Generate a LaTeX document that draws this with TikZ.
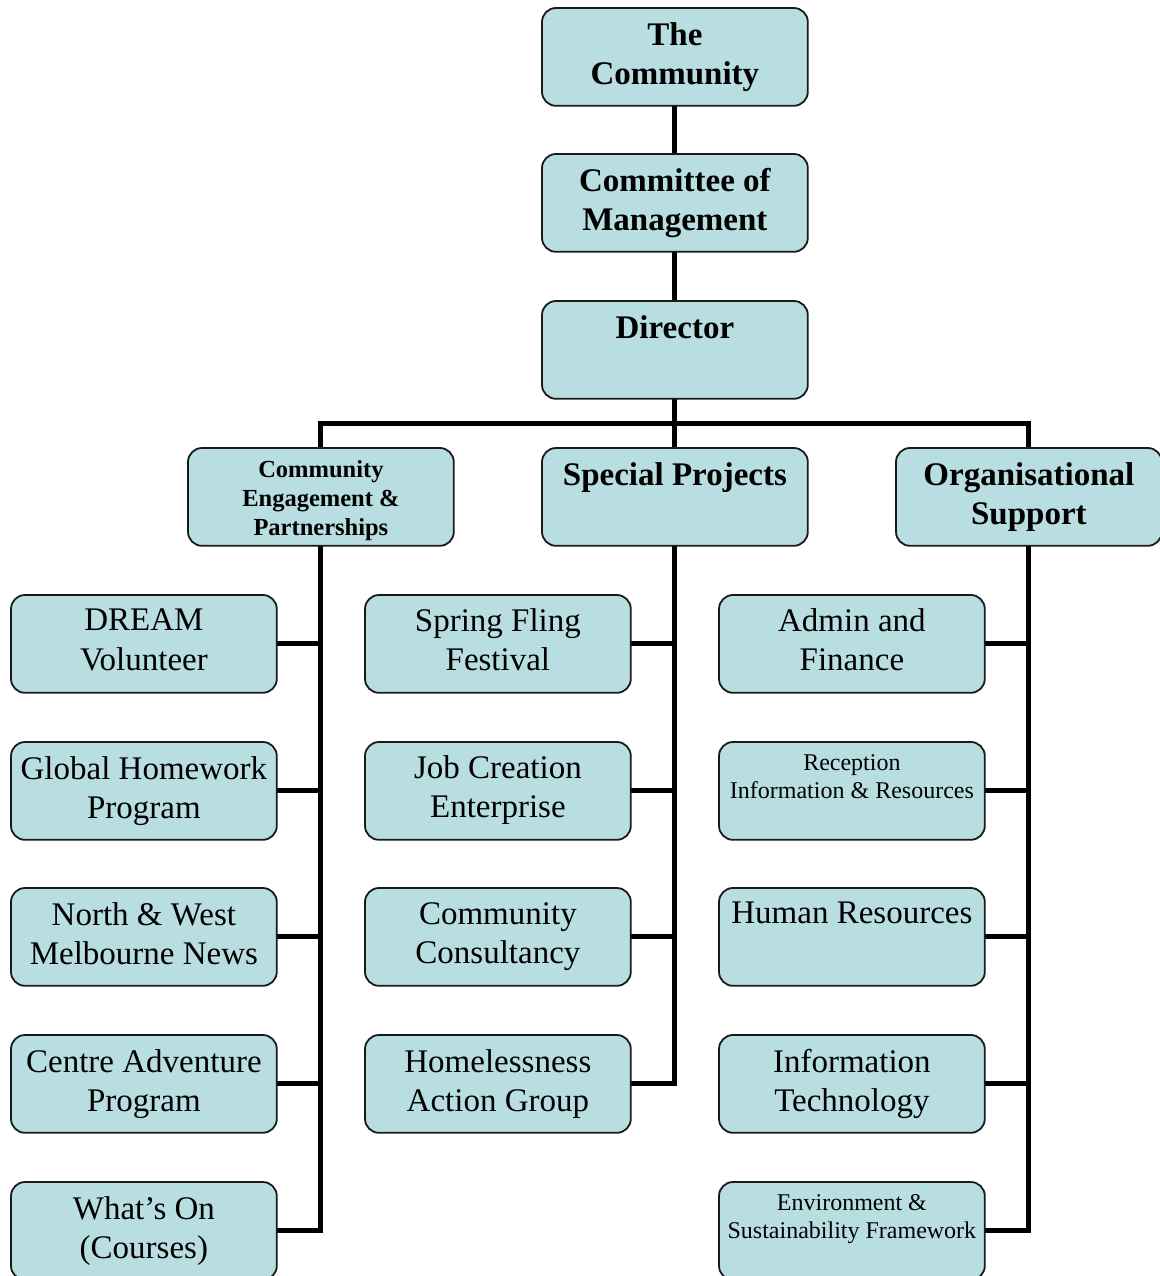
\documentclass[tikz,border=0pt]{standalone}
\usepackage{fontspec}
\setmainfont{Liberation Serif}
\definecolor{boxfill}{HTML}{B8DEE2}
\definecolor{boxline}{HTML}{1A1A1A}
\begin{document}
\begin{tikzpicture}[x=1pt,y=-1pt,
  box/.style={draw=boxline, line width=1.8pt, fill=boxfill, rounded corners=14pt,
    minimum width=264pt, minimum height=96pt, inner sep=0pt, anchor=north west},
  bigb/.style={anchor=north, align=center, inner sep=0pt, font=\fontsize{33}{39.5}\selectfont\bfseries},
  big/.style={anchor=north, align=center, inner sep=0pt, font=\fontsize{33}{39.5}\selectfont},
  smallb/.style={anchor=north, align=center, inner sep=0pt, font=\fontsize{24.5}{29}\selectfont\bfseries},
  small/.style={anchor=north, align=center, inner sep=0pt, font=\fontsize{24}{28}\selectfont},
  conn/.style={line width=5pt, draw=black}]
\useasboundingbox (0,0) rectangle (1159,1276);

% top column
\node[box] (tc) at (542,8) {};
\node[box] (cm) at (542,154) {};
\node[box] (dir) at (542,301) {};
\node[box] (sp) at (542,448) {};
\node[box] (cep) at (188,448) {};
\node[box] (os) at (896,448) {};

% left column
\node[box] (l1) at (11,595) {};
\node[box] (l2) at (11,742) {};
\node[box] (l3) at (11,888) {};
\node[box] (l4) at (11,1035) {};
\node[box] (l5) at (11,1182) {};

% middle column
\node[box] (m1) at (365,595) {};
\node[box] (m2) at (365,742) {};
\node[box] (m3) at (365,888) {};
\node[box] (m4) at (365,1035) {};

% right column
\node[box] (r1) at (719,595) {};
\node[box] (r2) at (719,742) {};
\node[box] (r3) at (719,888) {};
\node[box] (r4) at (719,1035) {};
\node[box] (r5) at (719,1182) {};

% connectors
\draw[conn] (tc.south) -- (cm.north);
\draw[conn] (cm.south) -- (dir.north);
\draw[conn] (dir.south) -- (sp.north);
\draw[conn] (cep.north) -- ++(0,-25) -| (os.north);

\draw[conn] (cep.south) |- (l5.east);
\foreach \n in {l1,l2,l3,l4} \draw[conn] (\n.east) -- (\n.east -| cep.south);
\draw[conn] (sp.south) |- (m4.east);
\foreach \n in {m1,m2,m3} \draw[conn] (\n.east) -- (\n.east -| sp.south);
\draw[conn] (os.south) |- (r5.east);
\foreach \n in {r1,r2,r3,r4} \draw[conn] (\n.east) -- (\n.east -| os.south);

% redraw boxes over connector ends
\foreach \n in {tc,cm,dir,sp,cep,os,l1,l2,l3,l4,l5,m1,m2,m3,m4,r1,r2,r3,r4,r5}
  \draw[draw=boxline, line width=1.8pt, fill=boxfill, rounded corners=14pt] (\n.north west) rectangle (\n.south east);

% labels
\node[bigb] (tcT) at ([yshift=-14pt]tc.north) {The\\Community};
\node[bigb] (cmT) at ([yshift=-14pt]cm.north) {Committee of\\Management};
\node[bigb] (dirT) at ([yshift=-14pt]dir.north) {Director};
\node[bigb] (spT) at ([yshift=-14pt]sp.north) {Special Projects};
\node[smallb] (cepT) at ([yshift=-12pt]cep.north) {Community\\Engagement \&\\Partnerships};
\node[bigb] (osT) at ([yshift=-14pt]os.north) {Organisational\\Support};

\node[big] (l1T) at ([yshift=-14pt]l1.north) {DREAM\\Volunteer};
\node[big] (l2T) at ([yshift=-14pt]l2.north) {Global Homework\\Program};
\node[big] (l3T) at ([yshift=-14pt]l3.north) {North \& West\\Melbourne News};
\node[big] (l4T) at ([yshift=-14pt]l4.north) {Centre Adventure\\Program};
\node[big] (l5T) at ([yshift=-14pt]l5.north) {What’s On\\(Courses)};

\node[big] (m1T) at ([yshift=-13pt]m1.north) {Spring Fling\\Festival};
\node[big] (m2T) at ([yshift=-13pt]m2.north) {Job Creation\\Enterprise};
\node[big] (m3T) at ([yshift=-14pt]m3.north) {Community\\Consultancy};
\node[big] (m4T) at ([yshift=-14pt]m4.north) {Homelessness\\Action Group};

\node[big] (r1T) at ([yshift=-13pt]r1.north) {Admin and\\Finance};
\node[small] (r2T) at ([yshift=-12pt]r2.north) {Reception\\Information \& Resources};
\node[big] (r3T) at ([yshift=-14pt]r3.north) {Human Resources};
\node[big] (r4T) at ([yshift=-14pt]r4.north) {Information\\Technology};
\node[small] (r5T) at ([yshift=-12pt]r5.north) {Environment \&\\Sustainability Framework};
\end{tikzpicture}
\end{document}
